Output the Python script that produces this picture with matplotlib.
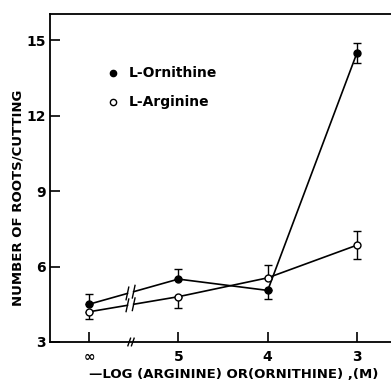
import numpy as np
import matplotlib
matplotlib.use("Agg")
import matplotlib.pyplot as plt

# data (x positions are ordinal slots: inf, 5, 4, 3)
x_labels = ["\u221e", "5", "4", "3"]
x_pos = [1, 2, 3, 4]

orn_mean = [4.5, 5.5, 5.05, 14.5]
orn_lo = [0.0, 0.0, 0.35, 0.4]
orn_hi = [0.4, 0.4, 0.0, 0.4]

arg_mean = [4.2, 4.8, 5.55, 6.85]
arg_lo = [0.3, 0.45, 0.0, 0.55]
arg_hi = [0.0, 0.0, 0.5, 0.55]

y_ticks = [3, 6, 9, 12, 15]

plt.rcParams.update({
    "font.family": "DejaVu Sans",
    "font.weight": "bold",
    "axes.labelweight": "bold",
    "font.size": 9.5,
})

fig = plt.figure(figsize=(3.91, 3.86), dpi=100)
ax = fig.add_axes([0.128, 0.114, 0.872, 0.85])

BREAK = (1.43, 1.50)   # gap on the inf -> 5 segment


def draw_series(xs, ys, lo, hi, filled):
    xs = np.asarray(xs, float)
    ys = np.asarray(ys, float)
    yb = np.interp(BREAK, xs[:2], ys[:2])
    # segment before and after the axis break
    ax.plot([xs[0], BREAK[0]], [ys[0], yb[0]], color="black", lw=1.2, zorder=2)
    ax.plot([BREAK[1], xs[1]], [yb[1], ys[1]], color="black", lw=1.2, zorder=2)
    for bx, by in zip(BREAK, yb):
        ax.plot([bx - 0.015, bx + 0.015], [by - 0.25, by + 0.25],
                color="black", lw=1.0, zorder=2)
    ax.plot(xs[1:], ys[1:], color="black", lw=1.2, zorder=2)
    ax.errorbar(xs, ys, yerr=[lo, hi], fmt="none", ecolor="black",
                elinewidth=1.0, capsize=3, capthick=1.0, zorder=3)
    ax.plot(xs, ys, "o", ms=5, mec="black", mew=1.0,
            mfc="black" if filled else "white", zorder=4)


draw_series(x_pos, orn_mean, orn_lo, orn_hi, True)
draw_series(x_pos, arg_mean, arg_lo, arg_hi, False)

ax.set_xlim(0.564, 4.38)
ax.set_ylim(3, 16.04)
ax.set_xticks(x_pos)
ax.set_xticklabels(x_labels)
ax.set_yticks(y_ticks)
ax.tick_params(direction="in", length=7, width=1.2, pad=6, labelsize=10)
ax.tick_params(axis="y", pad=3)
ax.spines["right"].set_visible(False)
for s in ["left", "bottom", "top"]:
    ax.spines[s].set_linewidth(1.3)

# x-axis break mark
for dx in (-0.02, 0.02):
    ax.plot([1.47 + dx - 0.015, 1.47 + dx + 0.015], [2.85, 3.15],
            color="black", lw=1.0, clip_on=False)

# legend
ax.plot([1.27], [13.7], "o", ms=4.5, color="black")
ax.text(1.45, 13.7, "L-Ornithine", va="center", fontsize=10,
        fontweight="bold")
ax.plot([1.27], [12.55], "o", ms=4.5, mfc="white", mec="black")
ax.text(1.45, 12.55, "L-Arginine", va="center", fontsize=10,
        fontweight="bold")

ax.set_ylabel("NUMBER OF ROOTS/CUTTING", fontsize=9.5)
ax.set_xlabel("\u2014LOG (ARGININE) OR(ORNITHINE) ,(M)", fontsize=9.5)
ax.yaxis.set_label_coords(-0.076, 0.44)
ax.xaxis.set_label_coords(0.54, -0.08)

fig.savefig("out.png", dpi=100)
